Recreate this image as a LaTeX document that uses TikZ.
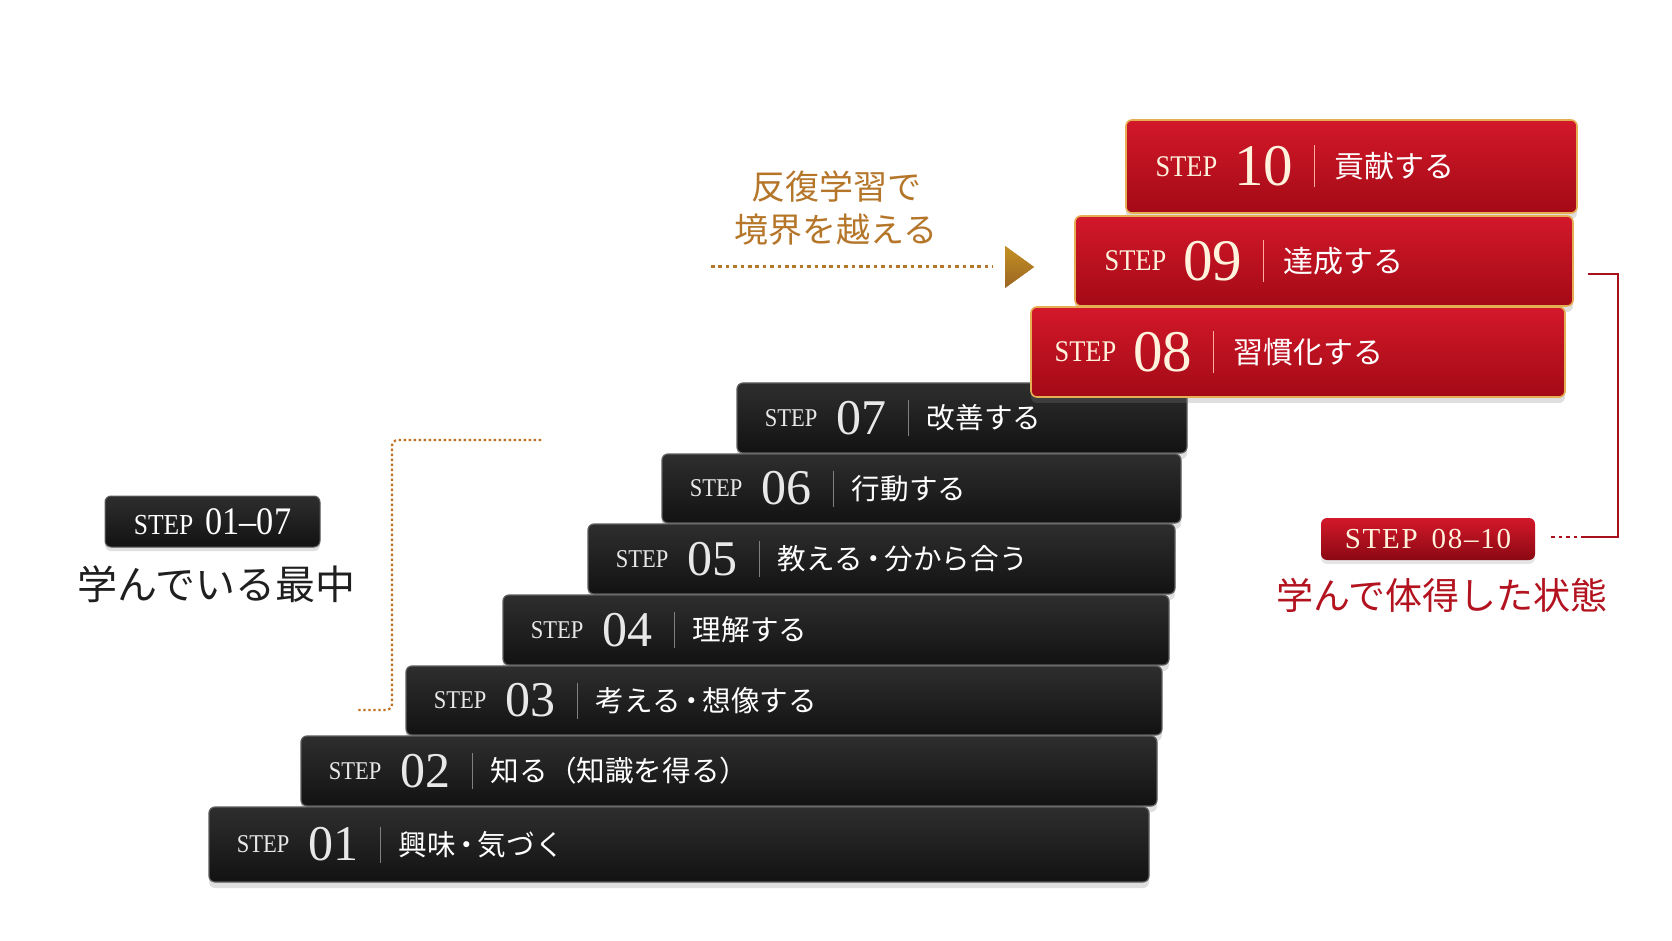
\documentclass[tikz,border=0pt]{standalone}
\usepackage{fontspec}
\setmainfont{Liberation Serif}
\newfontfamily\jp{Noto Sans CJK JP}
\newfontfamily\stepfont[FakeStretch=0.88]{Liberation Serif}
\usetikzlibrary{shadows}
\definecolor{gold}{HTML}{B5762A}
\definecolor{golddot}{HTML}{C0701E}
\definecolor{goldedge}{HTML}{E6AE52}
\definecolor{redA}{HTML}{D3182A}
\definecolor{redB}{HTML}{A30A15}
\definecolor{darkred}{HTML}{A8101C}
\definecolor{titlered}{HTML}{B3121F}
\definecolor{barA}{HTML}{2E2E2E}
\definecolor{barB}{HTML}{121212}
\definecolor{baredge}{HTML}{5E5E5E}
\definecolor{cream}{HTML}{FFF3DE}
\definecolor{silver}{HTML}{E8E8E8}
\newcommand\jpdot{\kern-0.12em・\kern-0.12em}
\tikzset{
  blackbar/.style={rounded corners=3pt, draw=baredge, line width=0.6pt,
    top color=barA, bottom color=barB, inner sep=0pt,
    drop shadow={shadow xshift=0pt, shadow yshift=-3pt, opacity=0.25}},
  redbar/.style={rounded corners=3pt, draw=goldedge, line width=0.8pt,
    top color=redA, bottom color=redB, inner sep=0pt,
    drop shadow={shadow xshift=0pt, shadow yshift=-3pt, opacity=0.25}},
  txt/.style={inner sep=0pt, anchor=west},
  sepblack/.style={draw=gray, line width=0.7pt},
  sepred/.style={draw=cream!70!red, line width=0.7pt},
  tagblack/.style={rounded corners=3pt, top color=barA, bottom color=barB, draw=baredge, line width=0.5pt, inner sep=0pt,
    drop shadow={shadow xshift=0pt, shadow yshift=-2pt, opacity=0.25}},
  tagred/.style={rounded corners=3pt, top color=redA, bottom color=redB!85!black, draw=none, inner sep=0pt,
    drop shadow={shadow xshift=0pt, shadow yshift=-2pt, opacity=0.2}},
  golddots/.style={draw=golddot, line width=1.1pt, dash pattern=on 1.2pt off 1.3pt},
  arrowdots/.style={draw=gold, line width=1.5pt, dash pattern=on 1.8pt off 1.9pt},
  bracket/.style={draw=darkred, line width=1pt},
}
\begin{document}
\begin{tikzpicture}[x=0.5pt,y=-0.5pt]
\useasboundingbox[fill=white] (0,0) rectangle (1672,941);

% black steps
\foreach \n/\l/\t/\r/\b/\j in {
  07/737/383/1187/453/改善する,
  06/662/454/1181/523/行動する,
  05/588/524/1175/594/教える\jpdot 分から合う,
  04/503/595/1169/665/理解する,
  03/406/666/1162/735/考える\jpdot 想像する,
  02/301/736/1157/806/知る（知識を得る）,
  01/209/807/1149/882/興味\jpdot 気づく}{
  \node[blackbar, minimum width={(\r-\l)*0.5pt}, minimum height={(\b-\t)*0.5pt}]
    (s\n) at ({(\l+\r)/2},{(\t+\b)/2}) {};
  \node[txt, text=silver, font=\stepfont\fontsize{12.8}{14}\selectfont] (s\n-a) at ([xshift=14pt]s\n.west) {STEP};
  \node[txt, text=silver, font=\fontsize{25}{28}\selectfont] (s\n-n) at ([xshift=9pt]s\n-a.east) {\n};
  \coordinate (s\n-c) at ([xshift=11pt]s\n-n.east);
  \draw[sepblack] ([yshift=9pt]s\n-c) -- ([yshift=-9pt]s\n-c);
  \node[txt, text=white, font=\jp\fontsize{14.3}{16}\selectfont] (s\n-j) at ([xshift=9pt]s\n-c) {\j};
}

% red steps
\foreach \n/\l/\t/\r/\b/\j/\o in {
  10/1126/120/1577/213/貢献する/15,
  09/1075/216/1573/306/達成する/15,
  08/1031/307/1565/397/習慣化する/12}{
  \node[redbar, minimum width={(\r-\l)*0.5pt}, minimum height={(\b-\t)*0.5pt}]
    (s\n) at ({(\l+\r)/2},{(\t+\b)/2}) {};
  \node[txt, text=cream, font=\stepfont\fontsize{15}{17}\selectfont] (s\n-a) at ([xshift=\o pt]s\n.west) {STEP};
  \node[txt, text=cream, font=\fontsize{29.5}{32}\selectfont] (s\n-n) at ([xshift=8pt]s\n-a.east) {\n};
  \coordinate (s\n-c) at ([xshift=10.5pt]s\n-n.east);
  \draw[sepred] ([yshift=10.5pt]s\n-c) -- ([yshift=-10.5pt]s\n-c);
  \node[txt, text=white, font=\jp\fontsize{15}{17}\selectfont] (s\n-j) at ([xshift=10pt]s\n-c) {\j};
}

% middle caption and dotted arrow
\node[text=gold, font=\jp\fontsize{17}{21.5}\selectfont, align=center, inner sep=0pt] (cap) at (836,208) {反復学習で\\境界を越える};
\coordinate (ar0) at (711,267);
\coordinate (ar1) at (993,267);
\draw[arrowdots] (ar0) -- (ar1);
\coordinate (tip) at (1034,267);
\fill[gold, top color=gold!80!yellow, bottom color=gold!85!black] (1005,246) -- (tip) -- (1005,288) -- cycle;

% left group
\node[tagblack, minimum width=107.5pt, minimum height=25.5pt] (lt) at (212.5,521.5) {};
\node[inner sep=0pt, text=white] (ltt) at (lt.center) {\stepfont\fontsize{14.5}{16}\selectfont STEP\hspace{6pt}\fontsize{19.5}{20}\selectfont 01–07};
\node[inner sep=0pt, text=black!88, font=\jp\fontsize{20}{22}\selectfont] (lcap) at (216,584) {学んでいる最中};
\coordinate (lb0) at (541,440);
\coordinate (lb1) at (356,710);
\draw[golddots, rounded corners=3pt] (lb0) -- (392,440) -- (392,710) -- (lb1);

% right group
\node[tagred, minimum width=107pt, minimum height=21pt] (rt) at (1428,539) {};
\node[inner sep=0pt, text=cream] (rtt) at (rt.center) {\addfontfeatures{LetterSpace=6}\fontsize{14.5}{16}\selectfont STEP\hspace{7pt}08–10};
\node[inner sep=0pt, text=titlered, font=\jp\fontsize{18.5}{21}\selectfont] (rcap) at (1442,595) {学んで体得した状態};
\coordinate (rb0) at (1588,274);
\coordinate (rb1) at (1585,537);
\coordinate (rb2) at (1548,537);
\draw[bracket] (rb0) -- (1618,274) -- (1618,537) -- (rb1);
\draw[bracket, line width=1.1pt, dash pattern=on 1.8pt off 2pt] (rb1) -- (rb2);
\end{tikzpicture}
\end{document}
